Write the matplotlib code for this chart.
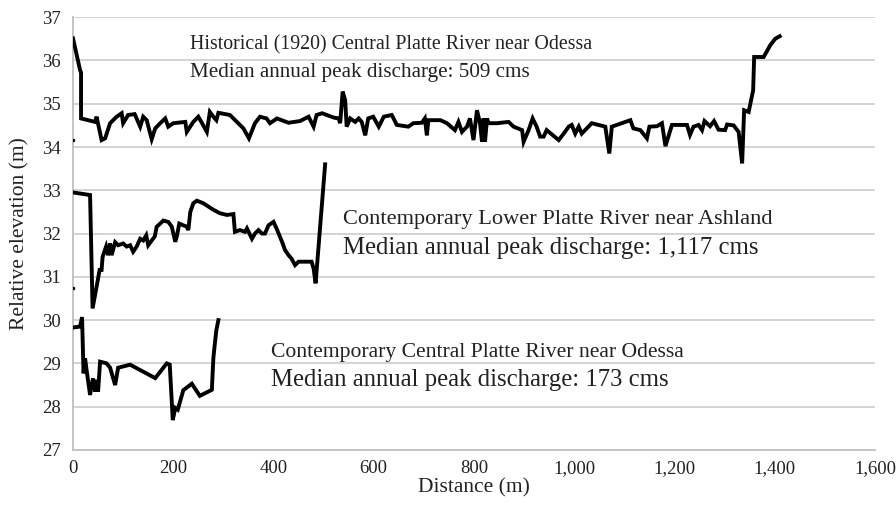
import matplotlib
matplotlib.use("Agg")
import matplotlib.pyplot as plt

plt.rcParams['font.family'] = ['Liberation Serif', 'DejaVu Serif']

# Historical (1920) Central Platte River near Odessa
hist_x = [0, 14, 16, 16, 44, 47, 57, 64, 74, 87, 97, 100, 110, 123, 134, 140, 147, 157, 164, 174,
          184, 190, 200, 224, 227, 240, 250, 257, 267, 273, 280, 286, 290, 313, 327, 340, 351, 363,
          373, 386, 393, 407, 430, 453, 470, 480, 486, 497, 520, 530, 533, 538, 543, 546, 553, 563,
          570, 576, 583, 589, 599, 610, 620, 636, 646, 669, 679, 696, 702, 706, 709, 733, 746, 762,
          769, 776, 786, 792, 799, 806, 812, 816, 819, 822, 826, 829, 846, 869, 879, 896, 899, 909,
          917, 925, 932, 939, 945, 969, 979, 989, 995, 1002, 1009, 1015, 1035, 1062, 1070, 1075,
          1112, 1118, 1132, 1145, 1150, 1165, 1175, 1182, 1195, 1225, 1231, 1238, 1248, 1255, 1260,
          1271, 1279, 1288, 1301, 1305, 1318, 1328, 1335, 1339, 1348, 1357, 1359, 1378, 1391, 1401,
          1410]
hist_y = [36.51, 35.78, 35.72, 34.66, 34.58, 34.70, 34.16, 34.20, 34.55, 34.70, 34.78, 34.55, 34.74,
          34.76, 34.47, 34.70, 34.62, 34.18, 34.43, 34.55, 34.66, 34.47, 34.55, 34.58, 34.35, 34.58,
          34.70, 34.56, 34.35, 34.81, 34.70, 34.62, 34.79, 34.74, 34.58, 34.43, 34.20, 34.55, 34.70,
          34.66, 34.55, 34.66, 34.56, 34.60, 34.70, 34.47, 34.74, 34.78, 34.68, 34.66, 34.55, 35.28,
          35.08, 34.47, 34.66, 34.58, 34.66, 34.58, 34.27, 34.66, 34.70, 34.47, 34.70, 34.74, 34.51,
          34.47, 34.55, 34.56, 34.66, 34.27, 34.62, 34.62, 34.55, 34.39, 34.58, 34.35, 34.47, 34.66,
          34.16, 34.85, 34.55, 34.12, 34.66, 34.12, 34.66, 34.55, 34.55, 34.58, 34.47, 34.39, 34.12,
          34.39, 34.66, 34.47, 34.24, 34.24, 34.39, 34.16, 34.31, 34.47, 34.51, 34.31, 34.47, 34.31,
          34.55, 34.47, 33.85, 34.47, 34.62, 34.43, 34.39, 34.20, 34.47, 34.48, 34.55, 34.02, 34.51,
          34.51, 34.28, 34.47, 34.51, 34.39, 34.60, 34.48, 34.60, 34.40, 34.39, 34.52, 34.50, 34.35,
          33.62, 34.85, 34.81, 35.31, 36.08, 36.08, 36.35, 36.50, 36.56]

# Contemporary Lower Platte River near Ashland
lower_x = [0, 34, 39, 47, 53, 57, 59, 66, 70, 74, 77, 84, 90, 100, 107, 114, 120, 127, 134, 140, 146,
           150, 157, 163, 167, 174, 180, 190, 197, 204, 207, 212, 220, 227, 230, 234, 240, 247, 260,
           280, 293, 307, 320, 323, 333, 343, 347, 357, 363, 370, 377, 383, 390, 400, 406, 417, 423,
           430, 436, 443, 450, 460, 470, 476, 480, 484, 503]
lower_y = [32.95, 32.89, 30.27, 30.77, 31.16, 31.16, 31.46, 31.70, 31.50, 31.77, 31.50, 31.80, 31.73,
           31.77, 31.70, 31.73, 31.58, 31.70, 31.88, 31.84, 31.96, 31.73, 31.84, 31.93, 32.16, 32.23,
           32.30, 32.27, 32.16, 31.81, 31.93, 32.23, 32.19, 32.16, 32.08, 32.50, 32.70, 32.76, 32.70,
           32.55, 32.47, 32.43, 32.45, 32.04, 32.08, 32.04, 32.12, 31.88, 32.00, 32.08, 32.00, 32.00,
           32.19, 32.27, 32.12, 31.81, 31.62, 31.50, 31.42, 31.27, 31.35, 31.35, 31.35, 31.35, 31.19,
           30.85, 33.60]

# Contemporary Central Platte River near Odessa
cent_x = [0, 14, 18, 21, 24, 27, 34, 37, 40, 44, 47, 50, 54, 67, 74, 84, 90, 114, 164, 187, 193, 199,
          204, 209, 220, 237, 253, 277, 280, 283, 286, 290]
cent_y = [29.83, 29.85, 30.07, 28.77, 29.12, 28.85, 28.27, 28.50, 28.65, 28.35, 28.62, 28.35, 29.04,
          29.00, 28.90, 28.50, 28.90, 28.97, 28.66, 29.00, 28.97, 27.69, 27.97, 27.93, 28.38, 28.53,
          28.25, 28.39, 29.12, 29.46, 29.77, 30.00]

# isolated points at x = 0
dot_x = [0, 0]
dot_y = [34.16, 30.74]

x_ticks = [0, 200, 400, 600, 800, 1000, 1200, 1400, 1600]
x_tick_labels = ["0", "200", "400", "600", "800", "1,000", "1,200", "1,400", "1,600"]
y_ticks = [27, 28, 29, 30, 31, 32, 33, 34, 35, 36, 37]

fig = plt.figure(figsize=(8.96, 5.05), dpi=100)
ax = fig.add_axes([0.0815, 0.109, 0.895, 0.857])

for xs, ys in [(hist_x, hist_y), (lower_x, lower_y), (cent_x, cent_y)]:
    ax.plot(xs, ys, color='black', linewidth=2.8, solid_joinstyle='miter', zorder=3)
ax.plot(dot_x, dot_y, linestyle='none', marker='o', markersize=1.5, color='black', zorder=3)

ax.set_xlim(0, 1600)
ax.set_ylim(27, 37)
ax.set_xticks(x_ticks)
ax.set_xticklabels(x_tick_labels)
ax.set_yticks(y_ticks)
ax.tick_params(axis='both', length=0, labelsize=13.5, colors='#222222')
ax.tick_params(axis='y', pad=9)
ax.tick_params(axis='x', pad=7)
ax.grid(axis='y', color='#d0d0d0', linewidth=1.3, zorder=0)
ax.set_axisbelow(True)
for side in ['top', 'right']:
    ax.spines[side].set_visible(False)
ax.spines['left'].set_color('#bfbfbf')
ax.spines['bottom'].set_color('#bfbfbf')
ax.spines['left'].set_linewidth(1.3)
ax.spines['bottom'].set_linewidth(1.3)

ax.set_xlabel("Distance (m)", fontsize=15.5, color='#222222', labelpad=1)
ax.set_ylabel("Relative elevation (m)", fontsize=15.5, color='#222222', labelpad=9)

ax.text(234, 36.35, "Historical (1920) Central Platte River near Odessa",
        fontsize=14.3, va='center', ha='left', color='#222222')
ax.text(234, 35.73, "Median annual peak discharge: 509 cms",
        fontsize=15.2, va='center', ha='left', color='#222222')
ax.text(539, 32.33, "Contemporary Lower Platte River near Ashland",
        fontsize=16.1, va='center', ha='left', color='#222222')
ax.text(539, 31.67, "Median annual peak discharge: 1,117 cms",
        fontsize=17.8, va='center', ha='left', color='#222222')
ax.text(395, 29.26, "Contemporary Central Platte River near Odessa",
        fontsize=15.6, va='center', ha='left', color='#222222')
ax.text(395, 28.62, "Median annual peak discharge: 173 cms",
        fontsize=17.8, va='center', ha='left', color='#222222')

fig.savefig("out.png", dpi=100)
